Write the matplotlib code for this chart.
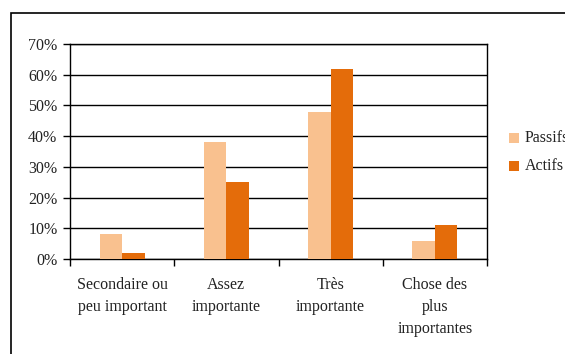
import matplotlib.pyplot as plt
from matplotlib.patches import Rectangle
import numpy as np

categories = ["Secondaire ou\npeu important", "Assez\nimportante", "Très\nimportante", "Chose des\nplus\nimportantes"]
passifs = [8, 38, 48, 6]
actifs = [2, 25, 62, 11]
yticks = [0, 10, 20, 30, 40, 50, 60, 70]

plt.rcParams['font.family'] = ['Liberation Serif', 'DejaVu Serif']

fig = plt.figure(figsize=(5.65, 3.54), dpi=100)
W, H = 565, 354
FS = 11.5
TXT = '#222222'

# outer chart frame (runs past the right and bottom edges)
fig.patches.append(Rectangle((11 / W, -0.1), 1.2, (1 - 13 / H) + 0.1,
                             transform=fig.transFigure, fill=False,
                             edgecolor='black', linewidth=1.2))

ax = fig.add_axes([70 / W, 1 - 259 / H, (487 - 70) / W, (259 - 44) / H])

x = np.arange(len(categories))
bw = 0.215
ax.bar(x - bw / 2, passifs, bw, color='#F9C18F', label='Passifs', zorder=3)
ax.bar(x + bw / 2, actifs, bw, color='#E46C0A', label='Actifs', zorder=3)

ax.set_xlim(-0.5, len(categories) - 0.5)
ax.set_ylim(0, 70)
ax.set_yticks(yticks)
ax.set_yticklabels([f"{v}%" for v in yticks], fontsize=FS, color=TXT)
ax.yaxis.grid(True, color='black', linewidth=1.0, zorder=0)

ax.set_xticks(np.arange(-0.5, len(categories), 1.0))
ax.set_xticklabels([])
ax.set_xticks(x, minor=True)
ax.set_xticklabels(categories, minor=True, fontsize=FS, color=TXT,
                   linespacing=1.5)
ax.tick_params(axis='x', which='minor', length=0, pad=13)
ax.tick_params(axis='x', which='major', length=5, width=1, direction='out')
ax.tick_params(axis='y', length=5, width=1, direction='out', pad=4)

for s in ['left', 'right', 'top', 'bottom']:
    ax.spines[s].set_color('black')
    ax.spines[s].set_linewidth(1.0)

# legend: colour squares with labels, partly past the right edge
sq = 10
for i, (lab, col) in enumerate([('Passifs', '#F9C18F'), ('Actifs', '#E46C0A')]):
    cy = 138 + i * 28
    fig.patches.append(Rectangle((509 / W, 1 - (cy + sq / 2) / H), sq / W, sq / H,
                                 transform=fig.transFigure, facecolor=col,
                                 edgecolor='none'))
    fig.text(525 / W, 1 - cy / H, lab, fontsize=FS, color=TXT,
             va='center', ha='left')

fig.savefig('out.png', dpi=100)
